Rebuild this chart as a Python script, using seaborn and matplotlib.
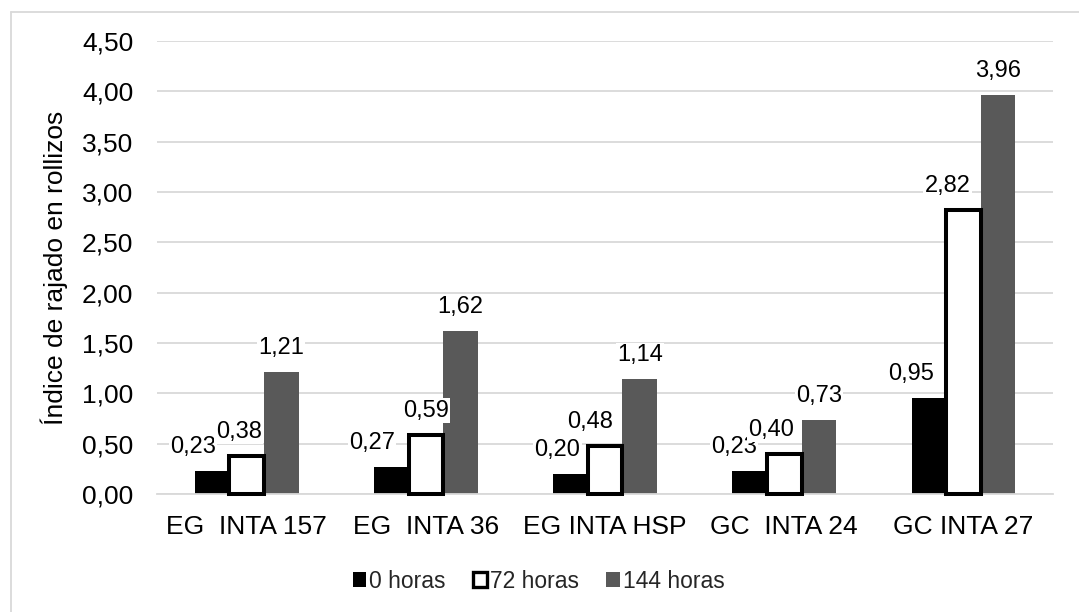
import matplotlib
matplotlib.use("Agg")
import matplotlib.pyplot as plt
from matplotlib.lines import Line2D
from matplotlib.patches import Patch
from matplotlib.ticker import FuncFormatter, MultipleLocator
import seaborn as sns
import pandas as pd

# Index values per variety and soaking time
variedades = ["EG  INTA 157", "EG  INTA 36", "EG INTA HSP", "GC  INTA 24", "GC INTA 27"]
tiempos = ["0 horas", "72 horas", "144 horas"]
horas_0 = [0.23, 0.27, 0.20, 0.23, 0.95]
horas_72 = [0.38, 0.59, 0.48, 0.40, 2.82]
horas_144 = [1.21, 1.62, 1.14, 0.73, 3.96]

df = pd.DataFrame({
    "variedad": variedades * 3,
    "tiempo": [t for t in tiempos for _ in variedades],
    "indice": horas_0 + horas_72 + horas_144,
})

sns.set_theme(style="white")
plt.rcParams["font.family"] = ["Liberation Sans", "DejaVu Sans"]

fig = plt.figure(figsize=(10.79, 6.12), dpi=100)
ax = fig.add_axes([0.1455, 0.193, 0.8305, 0.74])

colores = ["#000000", "#ffffff", "#595959"]
sns.barplot(data=df, x="variedad", y="indice", hue="tiempo", order=variedades,
            hue_order=tiempos, palette=colores, saturation=1, width=0.58, gap=0,
            legend=False, ax=ax)

# white bars get a heavy black outline
for patch in ax.containers[1]:
    patch.set_edgecolor("#000000")
    patch.set_linewidth(2.9)
    patch.set_zorder(3)
    patch.set_clip_on(False)
for idx in (0, 2):
    for patch in ax.containers[idx]:
        patch.set_edgecolor("none")
        patch.set_zorder(2)

# value labels, nudged sideways where neighbours would collide
desplaz = [
    [-19, -19, -13, -16, -18],
    [-8, 0, -15, -13, -16],
    [0, 0, 0, 0, 0],
]
for idx, cont in enumerate(ax.containers):
    for j, patch in enumerate(cont):
        valor = patch.get_height()
        xc = patch.get_x() + patch.get_width() / 2
        ax.annotate(f"{valor:.2f}".replace(".", ","), xy=(xc, valor),
                    xytext=(desplaz[idx][j], 24), textcoords="offset pixels",
                    ha="center", va="center", fontsize=17, color="#000000",
                    bbox=dict(boxstyle="square,pad=0.05", fc="white", ec="none"),
                    zorder=5, annotation_clip=False)

ax.set_ylim(0, 4.5)
ax.yaxis.set_major_locator(MultipleLocator(0.5))
ax.yaxis.set_major_formatter(FuncFormatter(lambda v, _: f"{v:.2f}".replace(".", ",")))
ax.grid(axis="y", color="#d9d9d9", linewidth=1.3, zorder=0)
ax.set_axisbelow(True)
for lado in ("top", "right", "left"):
    ax.spines[lado].set_visible(False)
ax.spines["bottom"].set_color("#d9d9d9")
ax.spines["bottom"].set_linewidth(1.3)
ax.tick_params(axis="both", length=0, labelsize=19, colors="#000000")
ax.tick_params(axis="y", pad=17)
ax.tick_params(axis="x", pad=15)
ax.set_xlabel("")
ax.set_ylabel("Índice de rajado en rollizos", fontsize=19, color="#000000", labelpad=10)
ax.set_xlim(-0.5, len(variedades) - 0.5)

handles = [
    Patch(facecolor="#000000", edgecolor="#000000", linewidth=0),
    Patch(facecolor="#ffffff", edgecolor="#000000", linewidth=2.4),
    Patch(facecolor="#595959", edgecolor="#595959", linewidth=0),
]
fig.legend(handles, tiempos, loc="center", bbox_to_anchor=(0.499, 1 - 581 / 612),
           ncol=3, frameon=False, fontsize=16.5, handlelength=0.6, handleheight=0.6,
           handletextpad=0.12, columnspacing=1.2)

# chart frame (left and top edges)
fig.add_artist(Line2D([10.5 / 1079, 10.5 / 1079], [0, 1 - 12 / 612],
                      transform=fig.transFigure, color="#d9d9d9", linewidth=1.3))
fig.add_artist(Line2D([10.5 / 1079, 1], [1 - 12 / 612, 1 - 12 / 612],
                      transform=fig.transFigure, color="#d9d9d9", linewidth=1.3))

fig.savefig("out.png", dpi=100)
